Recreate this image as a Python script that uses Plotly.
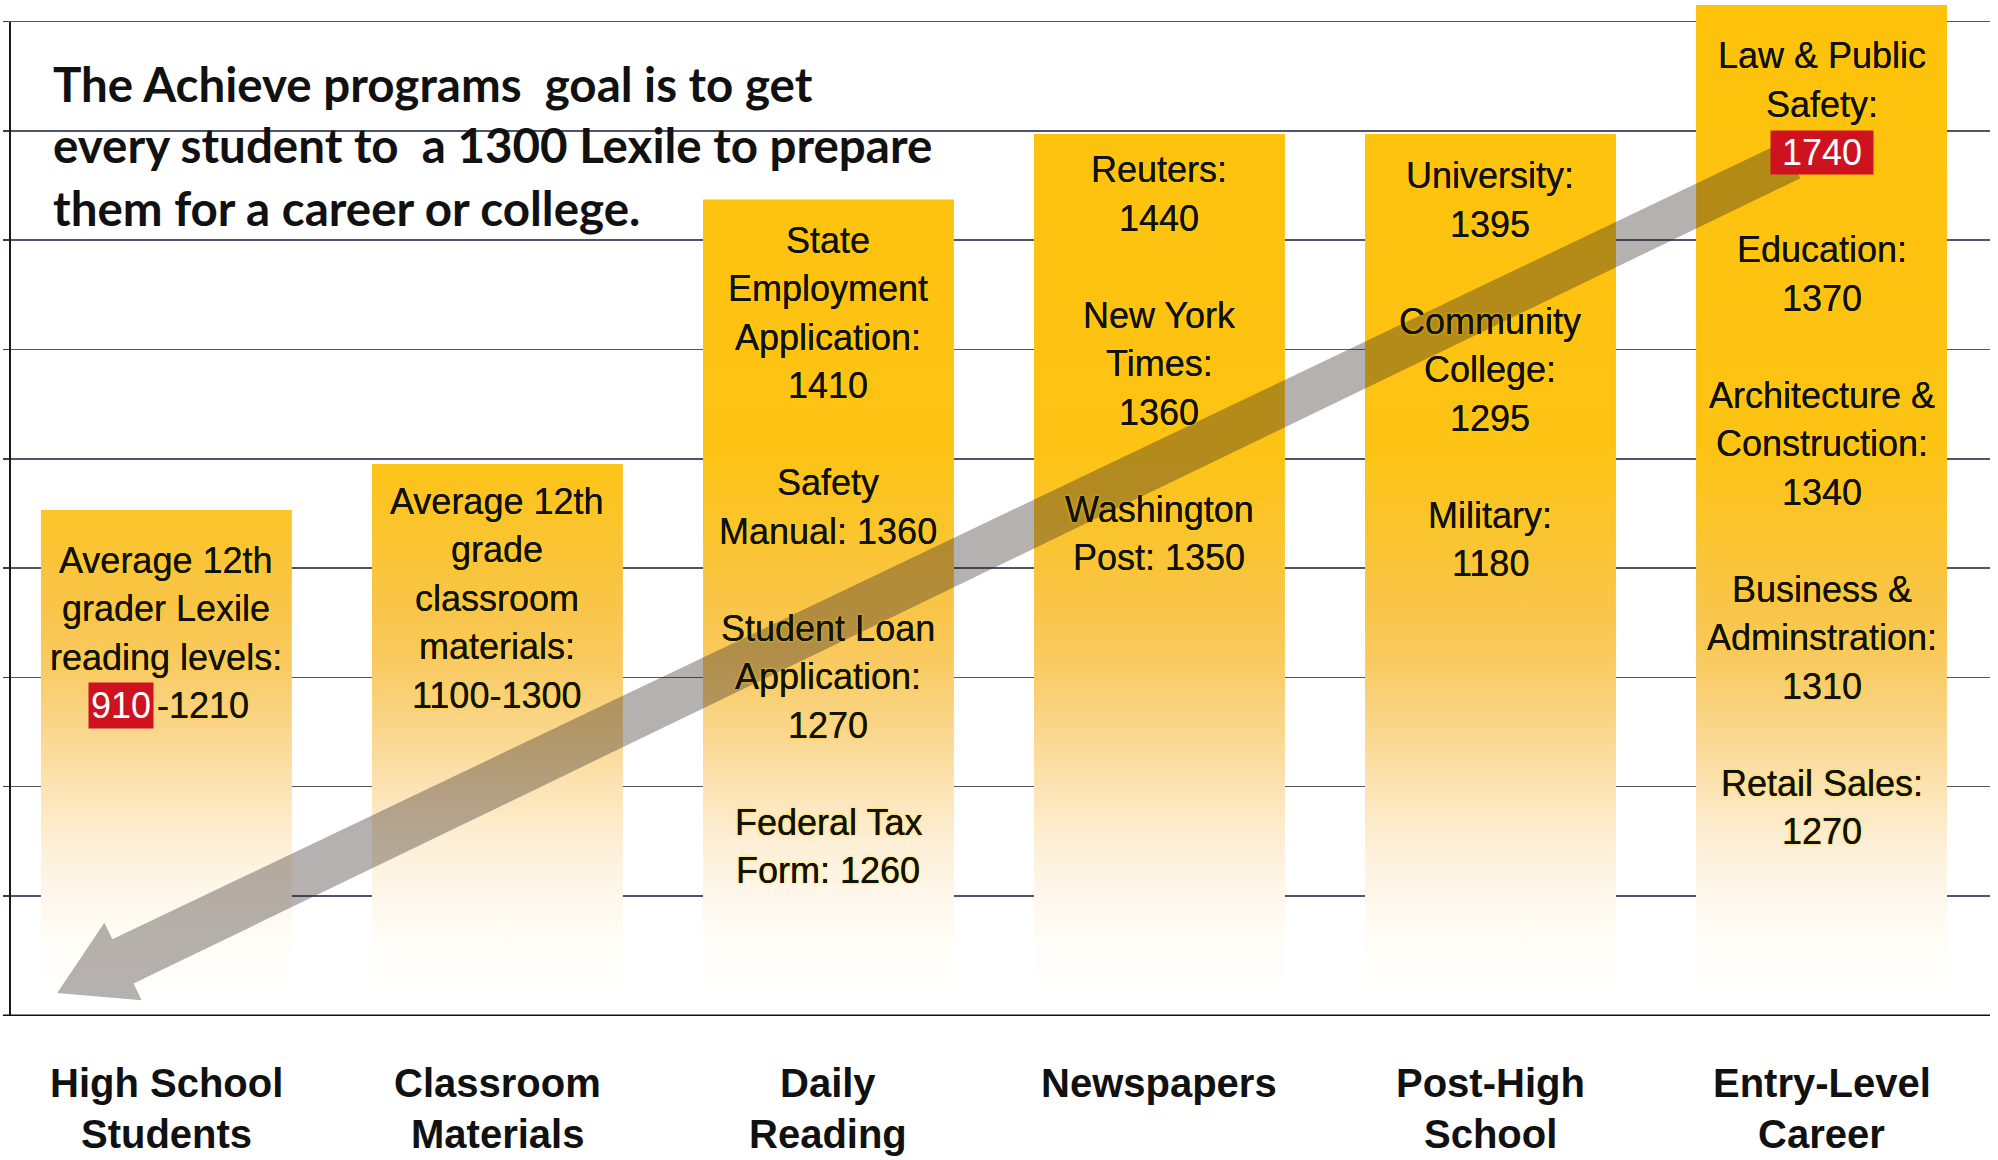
import math
import plotly.graph_objects as go

# ---------------- data ----------------
CATEGORIES = ["High School<br>Students", "Classroom<br>Materials", "Daily<br>Reading",
              "Newspapers", "Post-High<br>School", "Entry-Level<br>Career"]
# bar heights, in gridline steps
BAR_HEIGHTS = [4.63, 5.05, 7.47, 8.07, 8.07, 9.25]
# text inside each bar, one entry per line ("" = blank line, {..} = red highlight)
BAR_TEXTS = [
    ["Average 12th", "grader Lexile", "reading levels:", "{910}-1210"],
    ["Average 12th", "grade", "classroom", "materials:", "1100-1300"],
    ["State", "Employment", "Application:", "1410", "", "Safety", "Manual: 1360", "",
     "Student Loan", "Application:", "1270", "", "Federal Tax", "Form: 1260"],
    ["Reuters:", "1440", "", "New York", "Times:", "1360", "", "Washington", "Post: 1350"],
    ["University:", "1395", "", "Community", "College:", "1295", "", "Military:", "1180"],
    ["Law & Public", "Safety:", "{\u00a01740\u00a0}", "", "Education:", "1370", "", "Architecture &",
     "Construction:", "1340", "", "Business &", "Adminstration:", "1310", "",
     "Retail Sales:", "1270"],
]
TITLE_LINES = ["The Achieve programs\u00a0 goal is to get",
               "every student to\u00a0 a 1300 Lexile to prepare",
               "them for a career or college."]
# arrow: tip and tail in data units (x = category index, y = gridline steps)
ARROW_TIP = (-0.330, 0.21)
ARROW_TAIL = (4.91, 7.83)

# ---------------- layout constants ----------------
W, H = 1998, 1160
M_L, M_R, M_T, M_B = 10, 8, 4, 144
X_RANGE = [-0.4725, 5.509]
Y_RANGE = [0, 9.259]
GRID0 = 1.098
N_GRID = 9
BAR_W = 0.758
PW = W - M_L - M_R
PH = H - M_T - M_B
PX_X = PW / (X_RANGE[1] - X_RANGE[0])
PX_Y = PH / (Y_RANGE[1] - Y_RANGE[0])

TEXT_FIRST_OFFSET = [50.5, 37, 40.7, 36, 42, 51]   # px from bar top to first text line
LINE_H = 48.5
HL_SPLIT = -12
CAT_OFFSETS = [67, 118]   # px below baseline for category label lines

GOLD = "#FEC20A"
RED = "#CF1220"
TXT = "#111111"
BAR_FONT = "Liberation Sans, Arial, Helvetica, sans-serif"

GRAD = [
    [0.000, "#FFFFFF"], [0.023, "#FFFFFF"], [0.072, "#FFFDF7"], [0.121, "#FEF7EA"],
    [0.171, "#FDEFD6"], [0.221, "#FCE4B6"], [0.285, "#FAD68A"], [0.351, "#F9CA60"],
    [0.401, "#F9C54A"], [0.490, "#FBC42A"], [0.559, "#FDC314"], [1.000, GOLD],
]

fig = go.Figure()

# bars (gradient filled rectangles on the data axes)
for i, h in enumerate(BAR_HEIGHTS):
    x0, x1 = i - BAR_W / 2, i + BAR_W / 2
    fig.add_trace(go.Scatter(
        x=[x0, x1, x1, x0, x0], y=[0, 0, h, h, 0],
        mode="lines", line=dict(width=0, color=GOLD),
        fill="toself", fillcolor=GOLD,
        fillgradient=dict(type="vertical", colorscale=GRAD, start=Y_RANGE[0], stop=Y_RANGE[1]),
        hoverinfo="skip", showlegend=False))

# arrow (computed in pixel space, converted back to data)
tx, ty = ARROW_TIP[0] * PX_X, ARROW_TIP[1] * PX_Y
ex, ey = ARROW_TAIL[0] * PX_X, ARROW_TAIL[1] * PX_Y
L = math.hypot(ex - tx, ey - ty)
ux, uy = (ex - tx) / L, (ey - ty) / L
nx, ny = -uy, ux
HEAD_LEN, HEAD_HALF, W0, W1 = 73, 43, 49, 40
bx, by = tx + ux * HEAD_LEN, ty + uy * HEAD_LEN
pts = [
    (tx, ty),
    (bx + nx * HEAD_HALF, by + ny * HEAD_HALF),
    (bx + nx * W0 / 2, by + ny * W0 / 2),
    (ex + nx * W1 / 2, ey + ny * W1 / 2),
    (ex - nx * W1 / 2, ey - ny * W1 / 2),
    (bx - nx * W0 / 2, by - ny * W0 / 2),
    (bx - nx * HEAD_HALF, by - ny * HEAD_HALF),
    (tx, ty),
]
fig.add_trace(go.Scatter(
    x=[p[0] / PX_X for p in pts], y=[p[1] / PX_Y for p in pts],
    mode="lines", line=dict(width=0), fill="toself",
    fillcolor="rgba(50,40,40,0.36)", hoverinfo="skip", showlegend=False))

annotations = []
shadow = "0px 0px 0.6px #111111, 0px 0px 3px #FFD200"
for i, (h, lines) in enumerate(zip(BAR_HEIGHTS, BAR_TEXTS)):
    for k, line in enumerate(lines):
        if not line:
            continue
        ys = -(TEXT_FIRST_OFFSET[i] + k * LINE_H)
        base = dict(x=i, y=h, xref="x", yref="y", yanchor="middle", showarrow=False, yshift=ys)
        if "{" in line:
            pre, rest = line.split("{", 1)
            hl, post = rest.split("}", 1)
            if post:
                annotations.append(dict(base, text=hl, xanchor="right", xshift=HL_SPLIT,
                                        bgcolor=RED, borderpad=2,
                                        font=dict(family=BAR_FONT, size=36, color="white")))
                annotations.append(dict(base, text=post, xanchor="left", xshift=HL_SPLIT + 1,
                                        font=dict(family=BAR_FONT, size=36, color=TXT, shadow=shadow)))
            else:
                annotations.append(dict(base, text=hl, xanchor="center", bgcolor=RED, borderpad=1,
                                        font=dict(family=BAR_FONT, size=36, color="white")))
        else:
            annotations.append(dict(base, text=line, xanchor="center",
                                    font=dict(family=BAR_FONT, size=36, color=TXT, shadow=shadow)))

# category labels under the axis
for i, cat in enumerate(CATEGORIES):
    for k, part in enumerate(cat.split("<br>")):
        annotations.append(dict(
            text=part, x=i, y=0, xref="x", yref="y", xanchor="center", yanchor="middle",
            yshift=-CAT_OFFSETS[k], showarrow=False,
            font=dict(family=BAR_FONT, size=40, color="#111111", weight="bold")))

# title block
TITLE_Y_PX = [83, 145, 208]
for line, ypx in zip(TITLE_LINES, TITLE_Y_PX):
    annotations.append(dict(
        text=line, xref="paper", yref="paper",
        x=(51 - M_L) / PW, y=(H - M_B - ypx) / PH,
        xanchor="left", yanchor="middle", showarrow=False,
        font=dict(family="Lato, Carlito, Calibri, sans-serif", size=47.5, color="#111111", weight="bold")))

shapes = [
    # left axis line (from baseline up to top gridline)
    dict(type="line", xref="paper", yref="y", x0=0, x1=0, y0=0, y1=GRID0 + N_GRID - 1,
         line=dict(color="#1A1A1A", width=2), layer="above"),
    # bottom axis line
    dict(type="line", xref="paper", yref="y", x0=-0.0036, x1=1, y0=0, y1=0,
         line=dict(color="#111111", width=3), layer="above"),
]

fig.update_layout(
    width=W, height=H,
    margin=dict(l=M_L, r=M_R, t=M_T, b=M_B, pad=0),
    paper_bgcolor="white", plot_bgcolor="white",
    showlegend=False,
    xaxis=dict(range=X_RANGE, tickvals=list(range(len(CATEGORIES))),
               showticklabels=False, showgrid=False, zeroline=False, showline=False, ticks="",
               fixedrange=True),
    yaxis=dict(range=Y_RANGE, tickvals=[GRID0 + k for k in range(N_GRID)],
               showticklabels=False, showgrid=True, gridcolor="#50546A", gridwidth=1.5,
               zeroline=False, showline=False, ticks="outside", ticklen=6,
               tickcolor="#3A3D4A", tickwidth=1.5, fixedrange=True),
    annotations=annotations,
    shapes=shapes,
)

fig.write_html("out.html", config={"displayModeBar": False, "staticPlot": True},
               post_script="document.body.style.margin='0px';document.body.style.overflow='hidden';")
